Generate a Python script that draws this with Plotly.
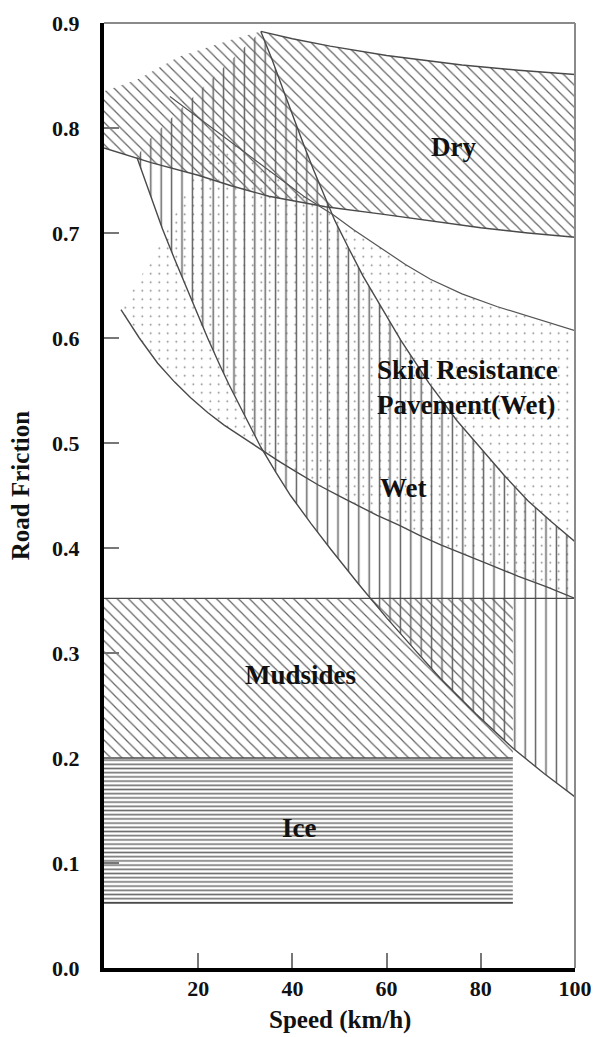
import plotly.graph_objects as go

# ---------------- data ----------------
speed_ticks = [20, 40, 60, 80, 100]
friction_ticks = [0.0, 0.1, 0.2, 0.3, 0.4, 0.5, 0.6, 0.7, 0.8, 0.9]
friction_tick_labels = ["0.0", "0.1", "0.2", "0.3", "0.4", "0.5", "0.6", "0.7", "0.8", "0.9"]

# Dry band
dry_left_x = [0, 7, 16, 27, 33.3]
dry_left_y = [0.835, 0.846, 0.868, 0.884, 0.892]
dry_top_x = [33.3, 40, 48, 60, 76, 88, 100]
dry_top_y = [0.892, 0.885, 0.878, 0.869, 0.860, 0.855, 0.851]
dry_bottom_x = [0, 10, 20, 27, 35, 47, 59, 70, 80, 90, 100]
dry_bottom_y = [0.781, 0.767, 0.755, 0.745, 0.735, 0.725, 0.718, 0.711, 0.705, 0.700, 0.696]

# Wet band (vertical hatch)
wet_left_x = [8.9, 33.3]
wet_left_y = [0.786, 0.892]
wet_top_x = [33.3, 35.7, 38, 40.3, 42.4, 44.5, 46.7, 49, 52, 55, 58, 63, 69, 75, 80, 85, 90, 95, 100]
wet_top_y = [0.892, 0.865, 0.837, 0.809, 0.784, 0.760, 0.737, 0.712, 0.685, 0.659, 0.636, 0.598,
             0.557, 0.521, 0.495, 0.469, 0.445, 0.425, 0.406]
wet_bottom_x = [7, 9.5, 12.4, 15, 17.7, 20, 22, 24.5, 26.5, 30, 33.3, 36.5, 39.6, 44, 48.1, 54,
                60.1, 66, 71.4, 79, 86.9, 93.5, 100]
wet_bottom_y = [0.772, 0.740, 0.704, 0.675, 0.646, 0.621, 0.600, 0.575, 0.556, 0.525, 0.496, 0.472,
                0.450, 0.423, 0.399, 0.366, 0.333, 0.303, 0.276, 0.242, 0.209, 0.185, 0.163]

# Skid resistance pavement (wet) band (dots)
skid_left_x = [3.6, 12, 17, 23]
skid_left_y = [0.627, 0.690, 0.735, 0.800]
skid_top_x = [14, 23, 30, 36, 42.4, 48.8, 53, 58.7, 64, 69.3, 76, 83.4, 92, 100]
skid_top_y = [0.830, 0.800, 0.777, 0.757, 0.735, 0.717, 0.703, 0.686, 0.670, 0.656, 0.642, 0.630,
              0.618, 0.607]
skid_bottom_x = [3.6, 7.5, 11.4, 15, 18.4, 22, 25.5, 29.5, 33.3, 37, 41, 45.5, 50.2, 54, 58, 62.5,
                 67, 71.5, 76.3, 82, 88, 94, 100]
skid_bottom_y = [0.627, 0.600, 0.576, 0.558, 0.543, 0.529, 0.517, 0.505, 0.494, 0.483, 0.472, 0.460,
                 0.449, 0.440, 0.431, 0.422, 0.412, 0.403, 0.394, 0.384, 0.373, 0.363, 0.352]

# Mudsides and Ice bands
mud_x = [0, 86.8]
mud_y = [0.2, 0.352]
mud_line_x = [0, 100]
ice_x = [0, 86.8]
ice_y = [0.062, 0.2]

LINE = "#4a4a4a"
HATCH = "#606060"
CLEAR = "rgba(0,0,0,0)"

fig = go.Figure()


def band(xs, ys, shape, size, solidity, color):
    fig.add_trace(go.Scatter(
        x=xs, y=ys, mode="lines", fill="toself", fillcolor=CLEAR,
        line=dict(width=0, color=CLEAR),
        fillpattern=dict(shape=shape, size=size, solidity=solidity,
                         fgcolor=color, bgcolor=CLEAR, fillmode="replace"),
        hoverinfo="skip", showlegend=False))


def edge(xs, ys, width=1.4, color=LINE):
    fig.add_trace(go.Scatter(x=xs, y=ys, mode="lines",
                             line=dict(color=color, width=width),
                             hoverinfo="skip", showlegend=False))


# dotted skid-resistance band
i0 = skid_top_x.index(23)
sx = skid_left_x + skid_top_x[i0 + 1:] + [100] + skid_bottom_x[::-1]
sy = skid_left_y + skid_top_y[i0 + 1:] + [skid_bottom_y[-1]] + skid_bottom_y[::-1]
band(sx, sy, ".", 8.5, 0.03, "#7a7a7a")

# vertical-hatched wet band
wx = wet_left_x + wet_top_x[1:] + wet_bottom_x[::-1]
wy = wet_left_y + wet_top_y[1:] + wet_bottom_y[::-1]
band(wx, wy, "|", 10.4, 0.14, HATCH)

# dry band
dx = dry_left_x + dry_top_x[1:] + dry_bottom_x[::-1]
dy = dry_left_y + dry_top_y[1:] + dry_bottom_y[::-1]
band(dx, dy, "\\", 7.8, 0.15, HATCH)

# mudsides
band([mud_x[0], mud_x[1], mud_x[1], mud_x[0], mud_x[0]],
     [mud_y[0], mud_y[0], mud_y[1], mud_y[1], mud_y[0]], "\\", 7.8, 0.15, HATCH)

# ice
band([ice_x[0], ice_x[1], ice_x[1], ice_x[0], ice_x[0]],
     [ice_y[0], ice_y[0], ice_y[1], ice_y[1], ice_y[0]], "-", 4.2, 0.38, "#707070")

# drawn boundary lines
edge(dry_top_x, dry_top_y)
edge(dry_bottom_x, dry_bottom_y)
edge(skid_top_x, skid_top_y, 1.2, "#555555")
edge(wet_top_x, wet_top_y)
edge(wet_bottom_x, wet_bottom_y)
edge(skid_bottom_x, skid_bottom_y)
edge(mud_line_x, [mud_y[1], mud_y[1]])
edge(ice_x, [ice_y[1], ice_y[1]], 1.6)
edge(ice_x, [ice_y[0], ice_y[0]], 1.6)

ann_font = dict(family="Liberation Serif", size=27, color="#111111")
labels = [
    ("<b>Dry</b>", 74.2, 0.782, "center"),
    ("<b>Skid Resistance</b><br><b>Pavement(Wet)</b>", 57.6, 0.553, "left"),
    ("<b>Wet</b>", 58.2, 0.457, "left"),
    ("<b>Mudsides</b>", 41.7, 0.279, "center"),
    ("<b>Ice</b>", 41.5, 0.133, "center"),
]
for text, ax_, ay_, anchor in labels:
    fig.add_annotation(x=ax_, y=ay_, text=text, showarrow=False, xanchor=anchor,
                       yanchor="middle", align="left", font=ann_font)

# axis titles
title_font = dict(family="Liberation Serif", size=25, color="#111111")
fig.add_annotation(x=0.5, y=-0.055, xref="paper", yref="paper", text="<b>Speed (km/h)</b>",
                   showarrow=False, xanchor="center", yanchor="middle", font=title_font)
fig.add_annotation(x=-0.178, y=0.51, xref="paper", yref="paper", text="<b>Road Friction</b>",
                   showarrow=False, textangle=-90, xanchor="center", yanchor="middle",
                   font=title_font)

# top/right frame
fig.add_shape(type="line", xref="paper", yref="paper", x0=0, x1=1, y0=1, y1=1,
              line=dict(color="#8a8a8a", width=2))
fig.add_shape(type="line", xref="paper", yref="paper", x0=1, x1=1, y0=0, y1=1,
              line=dict(color="#8a8a8a", width=2))

tick_font = dict(family="Liberation Serif", size=22, color="#111111", weight="bold")
fig.update_xaxes(range=[0, 100], tickvals=speed_ticks, ticktext=[str(v) for v in speed_ticks],
                 showline=True, linewidth=4, linecolor="black", ticks="inside", ticklen=15,
                 tickwidth=2, tickcolor="#777777", showgrid=False, zeroline=False,
                 tickfont=tick_font, ticklabelstandoff=-2, automargin=False)
fig.update_yaxes(range=[0, 0.9], tickvals=friction_ticks, ticktext=friction_tick_labels,
                 showline=True, linewidth=4, linecolor="black", ticks="inside", ticklen=15,
                 tickwidth=2, tickcolor="#777777", showgrid=False, zeroline=False,
                 tickfont=tick_font, ticklabelstandoff=16, automargin=False)

fig.update_layout(width=594, height=1037, margin=dict(l=104, r=19, t=23, b=69),
                  plot_bgcolor="white", paper_bgcolor="white",
                  font=dict(family="Liberation Serif"), showlegend=False)

# remove the default page margin so the figure fills the window exactly
fig.write_html("out.html", config={"displayModeBar": False},
               post_script="document.body.style.margin='0px';document.body.style.overflow='hidden';")
